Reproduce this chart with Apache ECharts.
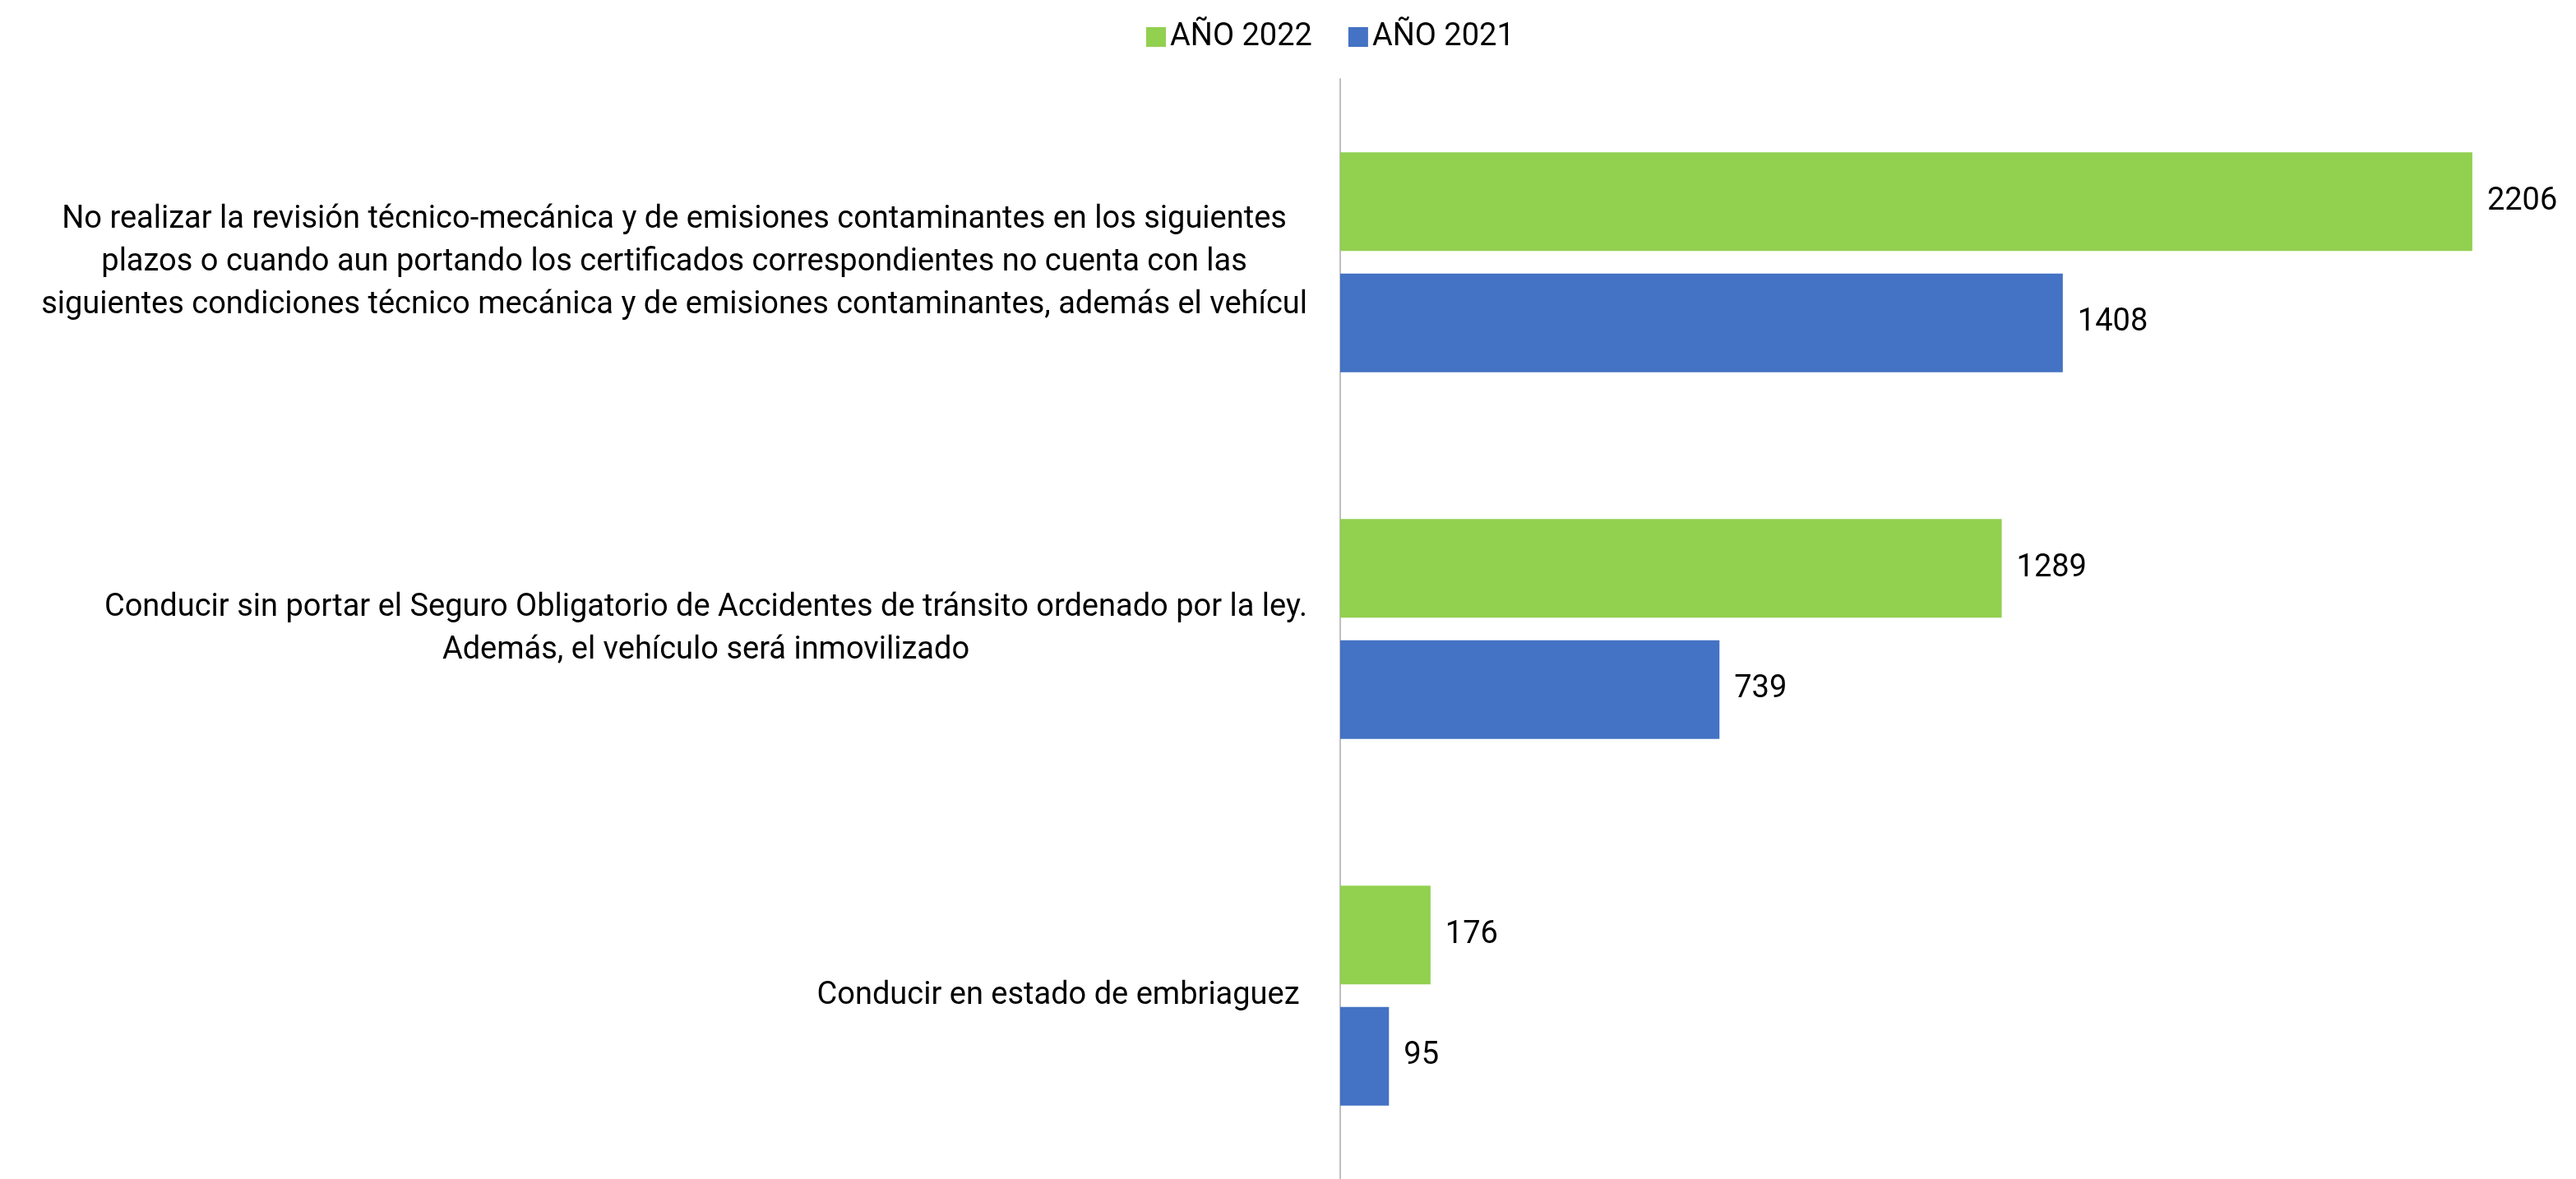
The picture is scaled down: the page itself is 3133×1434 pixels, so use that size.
<!DOCTYPE html>
<html>
<head>
<meta charset="utf-8">
<script src="https://cdn.jsdelivr.net/npm/echarts@6/dist/echarts.min.js"></script>
<style>
  html, body { margin: 0; padding: 0; background: #ffffff; }
  #chart { width: 3133px; height: 1434px; }
</style>
</head>
<body>
<div id="chart"></div>
<script>
const categories = [
  "No realizar la revisión técnico-mecánica y de emisiones contaminantes en los siguientes\nplazos o cuando aun portando los certificados correspondientes no cuenta con las\nsiguientes condiciones técnico mecánica y de emisiones contaminantes, además el vehícul",
  "Conducir sin portar el Seguro Obligatorio de Accidentes de tránsito ordenado por la ley.\nAdemás, el vehículo será inmovilizado",
  "Conducir en estado de embriaguez "
];
const seriesNames = ["AÑO 2022", "AÑO 2021"];
const values2022 = [2206, 1289, 176];
const values2021 = [1408, 739, 95];

const FONT = "Roboto";
const FS = 38;
const TEXT = '#000000';

const chart = echarts.init(document.getElementById('chart'), null, { renderer: 'canvas' });
chart.setOption({
  backgroundColor: '#ffffff',
  animation: false,
  legend: {
    data: seriesNames,
    left: 1389,
    top: 21,
    icon: 'rect',
    itemWidth: 24,
    itemHeight: 24,
    itemGap: 44,
    textStyle: { fontFamily: FONT, fontSize: FS, color: TEXT }
  },
  grid: { left: 1630, top: 96, width: 1498, height: 1344, containLabel: false },
  xAxis: {
    type: 'value', min: 0, max: 2400, show: false,
    splitLine: { show: false }
  },
  yAxis: {
    type: 'category',
    data: categories,
    inverse: true,
    axisTick: { show: false },
    axisLine: { show: true, lineStyle: { color: '#BFBFBF', width: 2 } },
    axisLabel: {
      margin: 40,
      align: 'right',
      fontFamily: FONT, fontSize: FS, color: TEXT, lineHeight: 52,
      formatter: function (value) {
        // lines are centred within the right-aligned label block
        return value.split('\n').map(line => '{c|' + line + '}').join('\n');
      },
      rich: {
        c: { align: 'center', fontFamily: FONT, fontSize: FS, color: TEXT, lineHeight: 52 }
      }
    }
  },
  series: [
    {
      name: seriesNames[0], type: 'bar', data: values2022,
      itemStyle: { color: '#92D050' },
      barGap: '23%', barCategoryGap: '40%',
      label: { show: true, position: 'right', distance: 18, fontFamily: FONT, fontSize: FS, color: TEXT }
    },
    {
      name: seriesNames[1], type: 'bar', data: values2021,
      itemStyle: { color: '#4472C4' },
      barGap: '23%', barCategoryGap: '40%',
      label: { show: true, position: 'right', distance: 18, fontFamily: FONT, fontSize: FS, color: TEXT }
    }
  ]
});
</script>
</body>
</html>
